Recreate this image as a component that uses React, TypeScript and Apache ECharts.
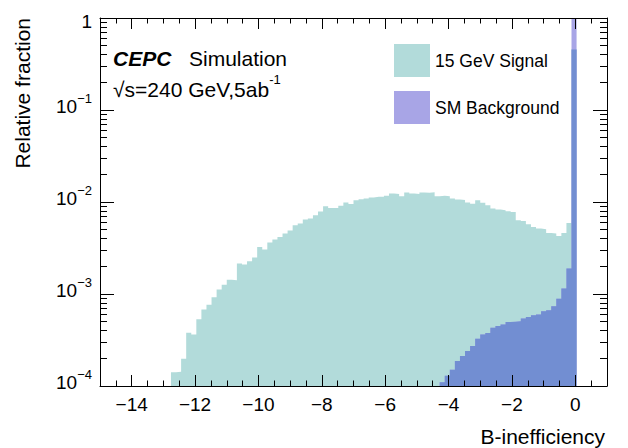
import { useEffect, useRef } from "react";
import * as echarts from "echarts";

// Histogram binning: 100 bins of 0.16 between -15 and 1
const BIN_START = -15;
const BIN_WIDTH = 0.16;

// 15 GeV signal, relative fraction per bin (first filled bin: index 14)
const SIGNAL_FIRST_BIN = 14;
const signalValues = [
  1.41e-4, 1.43e-4, 1.98e-4, 3.8e-4, 3.64e-4, 5.3e-4, 6.8e-4, 7.66e-4, 9.2e-4, 1.12e-3,
  1.26e-3, 1.43e-3, 1.41e-3, 2.14e-3, 2.09e-3, 2.27e-3, 2.49e-3, 3.25e-3, 3.04e-3, 3.62e-3,
  3.9e-3, 4.17e-3, 4.54e-3, 4.9e-3, 5.6e-3, 5.84e-3, 6.45e-3, 6.6e-3, 7.2e-3, 7.87e-3,
  9.0e-3, 8.63e-3, 8.63e-3, 9.1e-3, 9.87e-3, 9.5e-3, 0.01046, 0.0107, 0.0109, 0.0112,
  0.01137, 0.01137, 0.0117, 0.01236, 0.0122, 0.01156, 0.01268, 0.01236, 0.0122, 0.01268,
  0.01258, 0.0128, 0.01156, 0.0117, 0.01156, 0.0109, 0.01064, 0.0105, 0.0099, 0.0096,
  0.01046, 0.0098, 0.00923, 0.0085, 0.00828, 0.00814, 0.00794, 0.0078, 0.00634, 0.00622,
  0.00573, 0.00536, 0.00514, 0.00506, 0.00461, 0.00454, 0.00428, 0.00461, 0.00593, 0.456,
];

// SM background, relative fraction per bin (first filled bin: index 67)
const BACKGROUND_FIRST_BIN = 67;
const backgroundValues = [
  1.1e-4, 1.29e-4, 1.5e-4, 1.87e-4, 2.12e-4, 2.4e-4, 2.72e-4, 3.27e-4, 3.64e-4, 3.77e-4,
  4.31e-4, 4.49e-4, 4.65e-4, 4.96e-4, 5.0e-4, 5.05e-4, 5.4e-4, 5.62e-4, 5.86e-4, 5.97e-4,
  6.48e-4, 6.65e-4, 7.35e-4, 8.9e-4, 1.15e-3, 1.89e-3, 0.98,
];

// Axis ticks
const X_MAJOR = [-14, -12, -10, -8, -6, -4, -2, 0];
const X_MINOR = [-14.5, -13.5, -13, -12.5, -11.5, -11, -10.5, -9.5, -9, -8.5, -7.5, -7, -6.5, -5.5, -5, -4.5, -3.5, -3, -2.5, -1.5, -1, -0.5, 0.5];
const Y_MAJOR = [1e-4, 1e-3, 1e-2, 1e-1, 1];
const Y_MINOR_STEPS = [2, 3, 4, 5, 6, 7, 8, 9];
const Y_DECADES = [1e-4, 1e-3, 1e-2, 1e-1];

const SIGNAL_NAME = "15 GeV Signal";
const BACKGROUND_NAME = "SM Background";

const FONT = '"Liberation Sans", Arial, Helvetica, sans-serif';
const TEAL = "#b2dbda";
const PURPLE = "#a8a5e6";
const OVERLAP = "#728ed2";
const INK = "#000000";

function binEdge(bin: number) {
  return +(BIN_START + bin * BIN_WIDTH).toFixed(4);
}

// Step outline: value held from each bin's low edge to the next edge
function stepPoints(firstBin: number, values: number[]) {
  const pts = values.map((v, i) => [binEdge(firstBin + i), v]);
  pts.push([binEdge(firstBin + values.length), values[values.length - 1]]);
  return pts;
}

const overlapValues = backgroundValues.map((b, i) =>
  Math.min(b, signalValues[BACKGROUND_FIRST_BIN - SIGNAL_FIRST_BIN + i])
);

const yMinor: number[] = [];
Y_DECADES.forEach((d) => Y_MINOR_STEPS.forEach((k) => yMinor.push(+(d * k).toPrecision(3))));

function histSeries(name: string, values: number[], firstBin: number, color: string) {
  return {
    name,
    type: "line",
    step: "end",
    xAxisIndex: 0,
    yAxisIndex: 0,
    data: stepPoints(firstBin, values),
    showSymbol: false,
    symbol: "none",
    color,
    itemStyle: { color },
    lineStyle: { width: 0, opacity: 0 },
    areaStyle: { color, opacity: 1, origin: "start" },
    silent: true,
    z: 2,
  };
}

const tickLine = { color: INK, width: 1 };

function xAxisDef(position: string, ticks: number[], len: number, labels: boolean, line: boolean) {
  return {
    type: "value",
    position,
    min: -15,
    max: 1,
    z: 5,
    axisLine: { show: line, onZero: false, lineStyle: { color: INK, width: 1 } },
    axisTick: { show: true, inside: true, length: len, customValues: ticks, lineStyle: tickLine },
    axisLabel: labels
      ? {
          show: true,
          customValues: X_MAJOR,
          margin: 9,
          fontSize: 19,
          fontFamily: FONT,
          color: INK,
          formatter: (v: number) => (v < 0 ? "\u2212" + Math.abs(v) : String(v)),
        }
      : { show: false },
    splitLine: { show: false },
  };
}

function yAxisDef(position: string, ticks: number[], len: number, labels: boolean, line: boolean) {
  return {
    type: "log",
    logBase: 10,
    position,
    min: 1e-4,
    max: 1,
    z: 5,
    axisLine: { show: line, onZero: false, lineStyle: { color: INK, width: 1 } },
    axisTick: { show: true, inside: true, length: len, customValues: ticks, lineStyle: tickLine },
    axisLabel: labels
      ? {
          show: true,
          customValues: Y_MAJOR,
          margin: 8,
          color: INK,
          fontFamily: FONT,
          formatter: (v: number) => {
            const e = Math.round(Math.log10(v));
            if (e === 0) return "{one|1}";
            return "{n|10}{s|\u2212" + -e + "}";
          },
          rich: {
            one: { fontSize: 19, fontFamily: FONT, color: INK, padding: [7, 0, 0, 0] },
            n: { fontSize: 19, fontFamily: FONT, color: INK, padding: [5, 0, 12, 0] },
            s: { fontSize: 13, fontFamily: FONT, color: INK, verticalAlign: "top" },
          },
        }
      : { show: false },
    splitLine: { show: false },
  };
}

export default function App() {
  const ref = useRef<HTMLDivElement>(null);

  useEffect(() => {
    if (!ref.current) return;
    const chart = echarts.init(ref.current, undefined, { renderer: "svg" });
    chart.setOption({
      animation: false,
      backgroundColor: "#ffffff",
      textStyle: { fontFamily: FONT },
      grid: { left: 100, right: 21, top: 18, bottom: 62, containLabel: false },
      xAxis: [
        xAxisDef("bottom", X_MAJOR, 11, true, true),
        xAxisDef("bottom", X_MINOR, 5.5, false, false),
        xAxisDef("top", X_MAJOR, 11, false, true),
        xAxisDef("top", X_MINOR, 5.5, false, false),
      ],
      yAxis: [
        yAxisDef("left", Y_MAJOR, 14, true, true),
        yAxisDef("left", yMinor, 7, false, false),
        yAxisDef("right", Y_MAJOR, 14, false, true),
        yAxisDef("right", yMinor, 7, false, false),
      ],
      legend: {
        show: true,
        orient: "vertical",
        left: 389,
        top: 39,
        itemWidth: 36,
        itemHeight: 33,
        itemGap: 14,
        icon: "rect",
        selectedMode: false,
        textStyle: { fontSize: 17.5, fontFamily: FONT, color: INK },
        data: [
          { name: SIGNAL_NAME, icon: "rect", itemStyle: { color: TEAL, borderWidth: 0 } },
          { name: BACKGROUND_NAME, icon: "rect", itemStyle: { color: PURPLE, borderWidth: 0 } },
        ],
      },
      series: [
        histSeries(SIGNAL_NAME, signalValues, SIGNAL_FIRST_BIN, TEAL),
        histSeries(BACKGROUND_NAME, backgroundValues, BACKGROUND_FIRST_BIN, PURPLE),
        histSeries("overlap", overlapValues, BACKGROUND_FIRST_BIN, OVERLAP),
      ],
      graphic: [
        {
          type: "text",
          x: 113,
          y: 58,
          style: {
            text: "CEPC",
            fontSize: 21,
            fontWeight: "bold",
            fontStyle: "italic",
            fontFamily: FONT,
            fill: INK,
            verticalAlign: "middle",
          },
        },
        {
          type: "text",
          x: 189,
          y: 58,
          style: { text: "Simulation", fontSize: 21, fontFamily: FONT, fill: INK, verticalAlign: "middle" },
        },
        {
          type: "text",
          x: 113,
          y: 86,
          style: {
            text: "{m|\u221As=240 GeV,5ab}{s|-1}",
            fill: INK,
            verticalAlign: "middle",
            rich: {
              m: { fontSize: 21, fontFamily: FONT, fill: INK, padding: [6, 0, 0, 0] },
              s: { fontSize: 13, fontFamily: FONT, fill: INK, verticalAlign: "top" },
            },
          },
        },
        {
          type: "text",
          x: 605,
          y: 436,
          style: {
            text: "B-inefficiency",
            fontSize: 21,
            fontFamily: FONT,
            fill: INK,
            align: "right",
            verticalAlign: "middle",
          },
        },
        {
          type: "text",
          x: 22,
          y: 18,
          rotation: Math.PI / 2,
          style: {
            text: "Relative fraction",
            fontSize: 21,
            fontFamily: FONT,
            fill: INK,
            align: "right",
            verticalAlign: "middle",
          },
        },
      ],
    });
    return () => chart.dispose();
  }, []);

  return (
    <div
      ref={ref}
      style={{ position: "absolute", left: 0, top: 0, width: 628, height: 448 }}
    />
  );
}
